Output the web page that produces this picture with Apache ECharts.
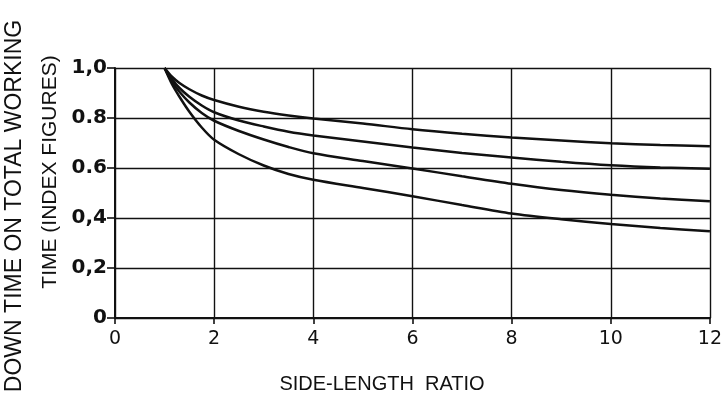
<!DOCTYPE html>
<html>
<head>
<meta charset="utf-8">
<script src="https://cdn.jsdelivr.net/npm/echarts@6/dist/echarts.min.js"></script>
<style>
  html, body { margin: 0; padding: 0; background: #fff; }
  #chart { width: 725px; height: 403px; }
</style>
</head>
<body>
<div id="chart"></div>
<script>
// Side-length ratio values at which each curve is sampled
const ratioPoints = [1, 1.15, 1.3, 1.5, 1.75, 2, 2.5, 3, 3.5, 4, 5, 6, 7, 8, 9, 10, 11, 12];

// Down time on total working time (index figures), four curves, top to bottom
const curveA = [1.0, 0.965, 0.94, 0.915, 0.89, 0.872, 0.845, 0.825, 0.81, 0.798, 0.778, 0.755, 0.737, 0.722, 0.71, 0.699, 0.692, 0.687];
const curveB = [1.0, 0.955, 0.92, 0.885, 0.85, 0.823, 0.79, 0.766, 0.745, 0.73, 0.706, 0.682, 0.66, 0.642, 0.625, 0.611, 0.602, 0.597];
const curveC = [1.0, 0.945, 0.905, 0.862, 0.82, 0.789, 0.748, 0.714, 0.684, 0.659, 0.628, 0.598, 0.567, 0.537, 0.512, 0.493, 0.478, 0.467];
const curveD = [1.0, 0.935, 0.885, 0.825, 0.762, 0.713, 0.655, 0.61, 0.576, 0.553, 0.52, 0.487, 0.452, 0.418, 0.395, 0.376, 0.36, 0.347];

// Tick labels as printed on the axes
const yTickValues = [0, 0.2, 0.4, 0.6, 0.8, 1.0];
const yTickLabels = ['0', '0,2', '0,4', '0.6', '0.8', '1,0'];
const xTickLabels = ['0', '2', '4', '6', '8', '10', '12'];

const ink = '#111';
const font = '"Liberation Sans", Arial, sans-serif';

function pairs(ys) {
  return ratioPoints.map((x, i) => [x, ys[i]]);
}

function curve(ys) {
  return {
    type: 'line',
    data: pairs(ys),
    smooth: 0.3,
    showSymbol: false,
    lineStyle: { color: ink, width: 2.5 },
    silent: true
  };
}

const chart = echarts.init(document.getElementById('chart'), null, { renderer: 'canvas' });

chart.setOption({
  backgroundColor: '#fff',
  animation: false,
  grid: { left: 115, right: 12, top: 68, bottom: 85 },
  xAxis: {
    type: 'value',
    min: 0, max: 12, interval: 2,
    axisLine: { show: true, lineStyle: { color: ink, width: 2 } },
    axisTick: { show: true, length: 6, lineStyle: { color: ink, width: 1.6 } },
    splitLine: { show: true, lineStyle: { color: ink, width: 1.4 } },
    axisLabel: {
      margin: 12,
      color: ink,
      fontFamily: '"DejaVu Sans", sans-serif',
      fontSize: 19,
      formatter: (v) => xTickLabels[Math.round(v / 2)]
    }
  },
  yAxis: {
    type: 'value',
    min: 0, max: 1, interval: 0.2,
    axisLine: { show: true, lineStyle: { color: ink, width: 2 } },
    axisTick: { show: true, length: 8, lineStyle: { color: ink, width: 1.6 } },
    splitLine: { show: true, lineStyle: { color: ink, width: 1.4 } },
    axisLabel: {
      margin: 8,
      color: ink,
      fontFamily: '"DejaVu Sans", sans-serif',
      fontWeight: 'bold',
      fontSize: 20,
      formatter: (v) => {
        const i = yTickValues.findIndex((t) => Math.abs(t - v) < 1e-6);
        return i >= 0 ? yTickLabels[i] : '';
      }
    }
  },
  graphic: [
    {
      type: 'text',
      x: 382, y: 384,
      style: {
        text: 'SIDE-LENGTH  RATIO',
        fill: ink,
        font: '20px ' + font,
        align: 'center',
        verticalAlign: 'middle'
      }
    },
    {
      type: 'text',
      x: 15, y: 206,
      rotation: Math.PI / 2,
      style: {
        text: 'DOWN TIME ON TOTAL WORKING',
        fill: ink,
        font: '23px ' + font,
        align: 'center',
        verticalAlign: 'middle'
      }
    },
    {
      type: 'text',
      x: 50, y: 172,
      rotation: Math.PI / 2,
      style: {
        text: 'TIME (INDEX FIGURES)',
        fill: ink,
        font: '21px ' + font,
        align: 'center',
        verticalAlign: 'middle'
      }
    }
  ],
  series: [curve(curveA), curve(curveB), curve(curveC), curve(curveD)]
});
</script>
</body>
</html>
